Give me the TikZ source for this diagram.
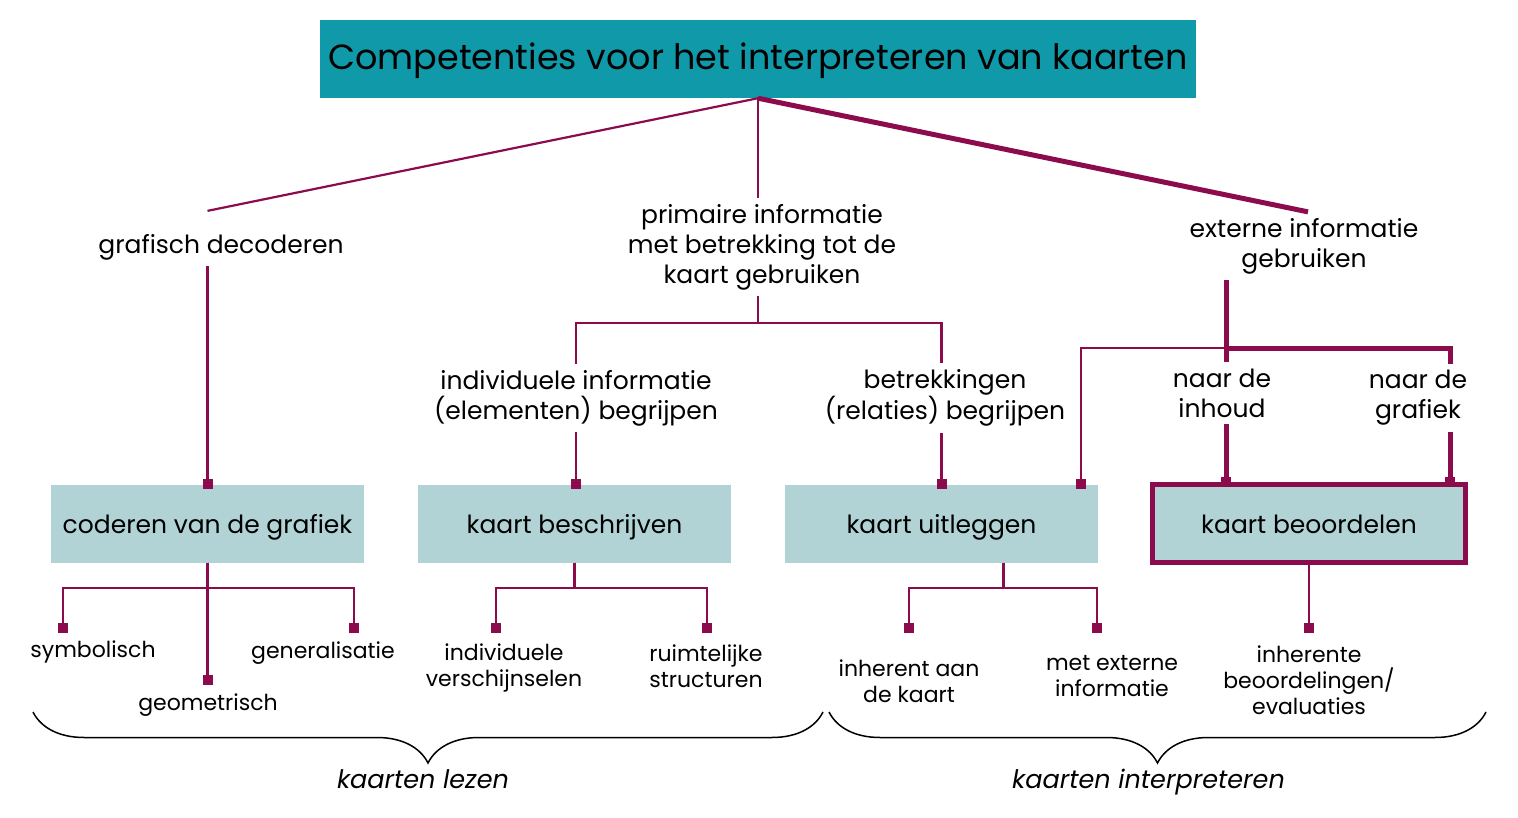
\documentclass[tikz,border=0pt]{standalone}
\usepackage{fontspec}
\setmainfont{Poppins}
\usetikzlibrary{arrows.meta,decorations.pathreplacing}
\definecolor{wijn}{HTML}{8C0B4C}
\definecolor{kop}{HTML}{1099A8}
\definecolor{vak}{HTML}{B1D3D6}
\tikzset{
  lijn/.style={wijn, line width=2.2pt},
  dik/.style={wijn, line width=5pt},
  blok/.style={-{Square[length=10pt,width=10pt]}, shorten >=-5pt},
  vakje/.style={fill=vak, minimum width=313pt, minimum height=78pt, inner sep=0pt, text height=24pt, text depth=5pt, font=\fontsize{25}{28}\selectfont},
  tekst/.style={align=center, inner sep=6pt, yshift=-3pt, font=\fontsize{25}{30}\selectfont},
  klein/.style={align=center, inner sep=6pt, yshift=-1pt, font=\fontsize{22}{26}\selectfont},
  accolade/.style={decorate, decoration={brace,mirror,amplitude=51pt}, line width=1.5pt},
  schuin/.style={yshift=-70pt, text height=18pt, text depth=5pt, font=\fontsize{25.5}{28}\selectfont\itshape},
}
\begin{document}
\begin{tikzpicture}[x=1pt,y=-1pt]
\useasboundingbox (0,0) rectangle (1518,818);
\node[fill=kop, minimum width=876pt, minimum height=78pt, inner sep=0pt, text height=29pt, text depth=7.5pt, font=\fontsize{35}{40}\selectfont] (titel) at (758,59) {Competenties voor het interpreteren van kaarten};
\node[tekst] (graf) at (221,244) {grafisch decoderen};
\node[tekst] (prim) at (762,244) {primaire informatie\\met betrekking tot de\\kaart gebruiken};
\node[tekst] (extern) at (1304,243) {externe informatie\\gebruiken};
\node[tekst] (indiv) at (576,395) {individuele informatie\\(elementen) begrijpen};
\node[tekst] (betr) at (945,395) {betrekkingen\\(relaties) begrijpen};
\node[tekst] (inhoud) at (1222,390) {naar de\\inhoud};
\node[tekst] (grafiek) at (1418,395) {naar de\\grafiek};
\node[vakje] (coderen) at (207.5,523.5) {coderen van de grafiek};
\node[vakje] (beschr) at (574.5,523.5) {kaart beschrijven};
\node[vakje] (uitleg) at (941.5,523.5) {kaart uitleggen};
\node[vakje, draw=wijn, line width=5pt] (beoord) at (1309,523.5) {kaart beoordelen};
\node[klein] (symb) at (93,651) {symbolisch};
\node[klein] (geom) at (208,704) {geometrisch};
\node[klein] (gener) at (323,652) {generalisatie};
\node[klein] (versch) at (504,667) {individuele\\verschijnselen};
\node[klein] (ruimt) at (706,665) {ruimtelijke\\structuren};
\node[klein] (inher) at (909,680) {inherent aan\\de kaart};
\node[klein] (metext) at (1112,675) {met externe\\informatie};
\node[klein] (beoev) at (1309,679) {inherente\\beoordelingen/\\evaluaties};
\coordinate (splits) at (1226,348);
\coordinate (rechts) at (1450,348);
\coordinate (links) at (1081,348);
\coordinate (e-symb) at (63,628);
\coordinate (e-geom) at (207.5,680);
\coordinate (e-gener) at (354,628);
\coordinate (e-versch) at (496,628);
\coordinate (e-ruimt) at (707,628);
\coordinate (e-inher) at (909,628);
\coordinate (e-metext) at (1097,628);
\coordinate (e-beoev) at (1309,628);
\draw[lijn] (titel.south) -- ([yshift=17pt]graf.north -| coderen.north);
\draw[lijn] (titel.south) -- (prim.north -| titel.south);
\draw[dik] (titel.south) -- ([xshift=4pt]extern.north);
\draw[lijn,blok] (graf.south -| coderen.north) -- (coderen.north);
\draw[lijn] (prim.south -| titel.south) -- ++(0,27) -| (indiv.north);
\draw[lijn] (prim.south -| titel.south) -- ++(0,27) -| (betr.north -| uitleg.north);
\draw[lijn,blok] (indiv.south) -- (indiv.south |- beschr.north);
\draw[lijn,blok] (betr.south -| uitleg.north) -- (uitleg.north);
\draw[lijn,blok] (splits) -| (links |- uitleg.north);
\draw[dik] (extern.south -| splits) -- (splits) -- (rechts) -- (rechts |- grafiek.north);
\draw[dik] (splits) -- (splits |- inhoud.north);
\draw[dik,blok] (splits |- inhoud.south) -- (splits |- beoord.north);
\draw[dik,blok] (rechts |- grafiek.south) -- (rechts |- beoord.north);
\draw[lijn,blok] (coderen.south) -- ++(0,25) -| (e-symb);
\draw[lijn,blok] (coderen.south) -- ++(0,25) -| (e-gener);
\draw[lijn,blok] (coderen.south) -- (e-geom);
\draw[lijn,blok] (beschr.south) -- ++(0,25) -| (e-versch);
\draw[lijn,blok] (beschr.south) -- ++(0,25) -| (e-ruimt);
\draw[lijn,blok] ([xshift=62pt]uitleg.south) -- ++(0,25) -| (e-inher);
\draw[lijn,blok] ([xshift=62pt]uitleg.south) -- ++(0,25) -| (e-metext);
\draw[lijn,blok] (beoord.south) -- (e-beoev);
\draw[accolade] (33,712) -- (823,712) node[midway, schuin, xshift=-5pt] (lezen) {kaarten lezen};
\draw[accolade] (829,712) -- (1486,712) node[midway, schuin, xshift=-9pt] (interp) {kaarten interpreteren};
\end{tikzpicture}
\end{document}
